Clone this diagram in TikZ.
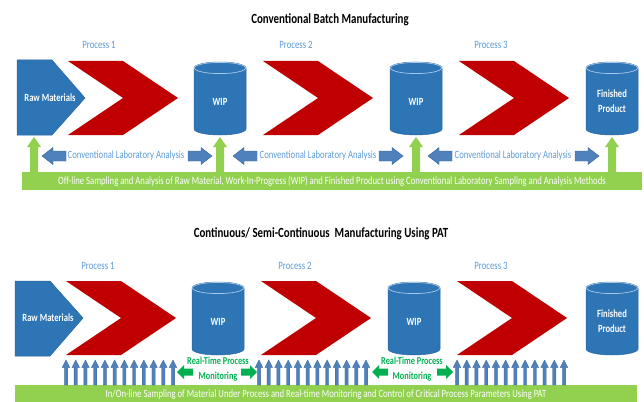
\documentclass[tikz,border=0pt]{standalone}
\usepackage{fontspec}
\setmainfont{Carlito}[FakeStretch=0.78]
\definecolor{shapeblue}{HTML}{2E75B6}
\definecolor{shapeedge}{HTML}{2A65A0}
\definecolor{cylrim}{HTML}{A9C8E8}
\definecolor{chevred}{HTML}{C00000}
\definecolor{labelblue}{HTML}{5B9BD5}
\definecolor{arrowblue}{HTML}{4F81BD}
\definecolor{arrowedge}{HTML}{3A6496}
\definecolor{barlime}{HTML}{92D050}
\definecolor{patgreen}{HTML}{00B050}
\tikzset{
  x=1pt, y=-1pt,
  title/.style={font=\bfseries\fontsize{14}{16}\selectfont, text=black},
  proclabel/.style={font=\fontsize{11.2}{13}\selectfont, text=labelblue},
  lablabel/.style={font=\fontsize{11.1}{13}\selectfont, text=labelblue},
  inshape/.style={font=\bfseries\fontsize{11}{15}\selectfont, text=white, align=center},
  bartext/.style={font=\fontsize{11.1}{13}\selectfont, text=white},
  rtlabel/.style={font=\bfseries\fontsize{10.6}{15}\selectfont, text=patgreen, align=center},
  chevron/.style={fill=chevred, draw=none},
  blueshape/.style={fill=shapeblue, draw=shapeedge, line width=0.5pt},
  bar/.style={fill=barlime, draw=none},
  labarrow/.style={fill=arrowblue, draw=arrowedge, line width=0.4pt},
  upgreen/.style={fill=barlime, draw=none},
  upblue/.style={fill=arrowblue, draw=arrowedge, line width=0.3pt},
  rtarrow/.style={fill=patgreen, draw=none},
  % red process chevron, top-left corner at the pic origin
  procchevron/.pic={\path[pic actions] (0,0) -- (55,0) -- (110,37) -- (55,74) -- (0,74) -- (55,37) -- cycle;},
  % blue block arrows beside the lab analysis labels, tip at origin
  lableft/.pic={\path[pic actions] (0,0) -- (11,-8.5) -- (11,-5) -- (24,-5) -- (24,5) -- (11,5) -- (11,8.5) -- cycle;},
  labright/.pic={\path[pic actions] (0,0) -- (-11,-8.5) -- (-11,-5) -- (-24,-5) -- (-24,5) -- (-11,5) -- (-11,8.5) -- cycle;},
  % green sampling arrow, tip at origin
  sampleup/.pic={\path[pic actions] (0,0) -- (7,10) -- (4,10) -- (4,35) -- (-4,35) -- (-4,10) -- (-7,10) -- cycle;},
  % thin in-line sampling arrow, tip at origin
  inlineup/.pic={\path[pic actions] (0,0) -- (3.8,7.5) -- (1.6,7.5) -- (1.6,25) -- (-1.6,25) -- (-1.6,7.5) -- (-3.8,7.5) -- cycle;},
  % green monitoring arrows, tip at origin
  rtleft/.pic={\path[pic actions] (0,0) -- (7,-7) -- (7,-3.5) -- (16,-3.5) -- (16,3.5) -- (7,3.5) -- (7,7) -- cycle;},
  rtright/.pic={\path[pic actions] (0,0) -- (-7,-7) -- (-7,-3.5) -- (-16,-3.5) -- (-16,3.5) -- (-7,3.5) -- (-7,7) -- cycle;},
}
% storage drum: centre x, top y, bottom y, node name, label
\newcommand\storagedrum[5]{%
  \path[blueshape] (#1-26,#2+6) -- (#1-26,#3-6)
    arc[start angle=180, end angle=360, x radius=26pt, y radius=6pt]
    -- (#1+26,#2+6)
    arc[start angle=0, end angle=180, x radius=26pt, y radius=6pt] -- cycle;
  \draw[cylrim, line width=0.7pt] (#1,#2+6) ellipse [x radius=25.6pt, y radius=5.6pt];
  \node[inshape] (#4) at (#1,{(#2+#3)/2+3}) {#5};
}
\begin{document}
\begin{tikzpicture}
\useasboundingbox (0,0) rectangle (644,401);

% ---------------- Conventional batch manufacturing ----------------
\node[title] (t1) at (330,20) {Conventional Batch Manufacturing};

\node[proclabel] (p1a) at (99,45) {Process 1};
\node[proclabel] (p2a) at (296,45) {Process 2};
\node[proclabel] (p3a) at (491,45) {Process 3};

\path[blueshape] (17,60) -- (52,60) -- (85,98) -- (52,135) -- (17,135) -- cycle;
\node[inshape] (rawa) at (50,98) {Raw Materials};

\pic[chevron] at (68,61) {procchevron};
\pic[chevron] at (263,61) {procchevron};
\pic[chevron] at (459,61) {procchevron};

\storagedrum{220}{62}{135}{wipa}{WIP}
\storagedrum{416}{62}{135}{wipb}{WIP}
\storagedrum{612}{62}{135}{fina}{Finished\\Product}

\path[bar] (22,172) rectangle (642,190);
\node[bartext] (bara) at (332,181.5) {Off-line Sampling and Analysis of Raw Material, Work-In-Progress (WIP) and Finished Product using Conventional Laboratory Sampling and Analysis Methods};

\foreach \gx in {34,220,416,612} \pic[upgreen] at (\gx,137) {sampleup};

\pic[labarrow] at (42,156) {lableft};
\pic[labarrow] at (212,156) {labright};
\node[lablabel] (laba) at (126,156) {Conventional Laboratory Analysis};
\pic[labarrow] at (233,156) {lableft};
\pic[labarrow] at (403,156) {labright};
\node[lablabel] (labb) at (318,156) {Conventional Laboratory Analysis};
\pic[labarrow] at (428,156) {lableft};
\pic[labarrow] at (599,156) {labright};
\node[lablabel] (labc) at (513,156) {Conventional Laboratory Analysis};

% ---------------- Continuous manufacturing with PAT ----------------
\node[title] (t2) at (321,234) {Continuous/ Semi-Continuous\ \ Manufacturing Using PAT};

\node[proclabel] (p1b) at (98,266) {Process 1};
\node[proclabel] (p2b) at (295,266) {Process 2};
\node[proclabel] (p3b) at (491,266) {Process 3};

\path[blueshape] (15,281) -- (50,281) -- (83,318) -- (50,356) -- (15,356) -- cycle;
\node[inshape] (rawb) at (48,318) {Raw Materials};

\pic[chevron] at (66,281) {procchevron};
\pic[chevron] at (261,281) {procchevron};
\pic[chevron] at (457,281) {procchevron};

\storagedrum{218}{282}{355}{wipc}{WIP}
\storagedrum{414}{282}{355}{wipd}{WIP}
\storagedrum{612}{282}{355}{finb}{Finished\\Product}

\path[bar] (15,385) rectangle (637,405);
\node[bartext] (barb) at (326,395) {In/On-line Sampling of Material Under Process and Real-time Monitoring and Control of Critical Process Parameters Using PAT};

\foreach \grp in {66,259,457}
  \foreach \k in {0,...,11}
    \pic[upblue] at ({\grp+\k*9.73},360) {inlineup};

\node[rtlabel] (rta) at (218,369) {Real-Time Process\\Monitoring};
\pic[rtarrow] at (177,372) {rtleft};
\pic[rtarrow] at (257,372) {rtright};
\node[rtlabel] (rtb) at (412,369) {Real-Time Process\\Monitoring};
\pic[rtarrow] at (372,372) {rtleft};
\pic[rtarrow] at (453,372) {rtright};
\end{tikzpicture}
\end{document}
